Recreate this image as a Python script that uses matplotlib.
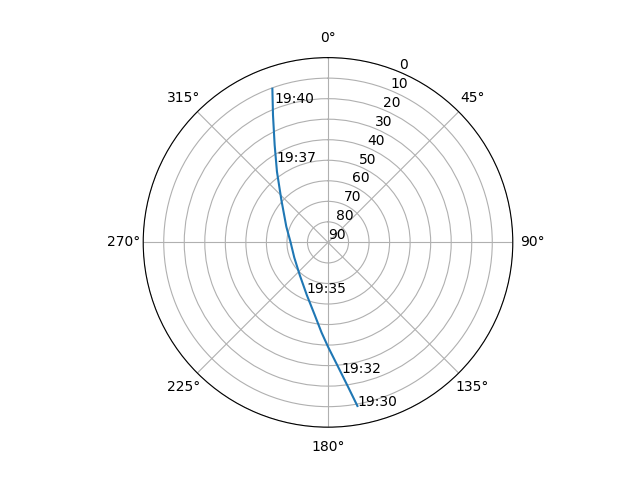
"""Sky track of a satellite pass, drawn as azimuth / elevation on a polar plot."""

import matplotlib

matplotlib.use("Agg")
import matplotlib.pyplot as plt  # noqa: E402
import numpy as np  # noqa: E402

# pass track (degrees)
track_azimuth = [169.8, 172.1, 175.4, 180.0, 184.1, 190.4, 202.0, 221.0,
                 245.9, 271.1, 290.7, 312.3, 324.2, 331.3, 336.65, 340.1]
track_elevation = [9.05, 19.0, 29.3, 39.2, 46.0, 54.1, 62.4, 69.0,
                   72.0, 71.7, 68.3, 59.3, 47.5, 35.9, 22.4, 10.4]

# time stamps written along the track
label_times = ["19:30", "19:32", "19:35", "19:37", "19:40"]
label_azimuth = [169.8, 174.2, 203.2, 327.5, 339.1]
label_elevation = [9.05, 25.9, 63.3, 43.7, 17.3]

elevation_ticks = list(range(0, 91, 10))


def main() -> None:
    figure = plt.figure(figsize=(6.4, 4.8), dpi=100)
    axis = figure.add_subplot(111, projection="polar")
    axis.set_theta_zero_location("N")
    axis.set_theta_direction(-1)

    axis.plot(np.radians(track_azimuth), track_elevation, color="C0")
    for text, az, el in zip(label_times, label_azimuth, label_elevation, strict=True):
        axis.text(np.radians(az), el, text)

    axis.set_rlim(90, 0)
    axis.set_yticks(elevation_ticks)
    axis.set_rlabel_position(22.5)
    axis.grid(True)

    figure.savefig("out.png", dpi=100)
    plt.close(figure)


if __name__ == "__main__":
    main()
